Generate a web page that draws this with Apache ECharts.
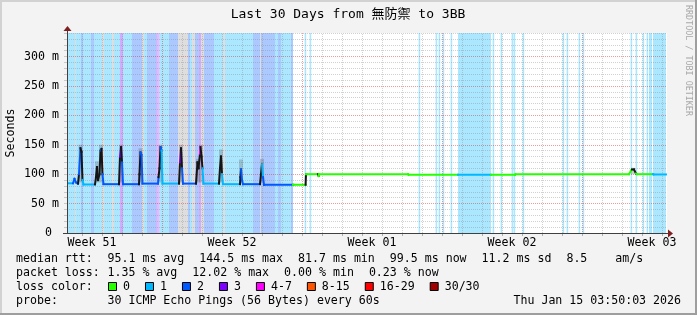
<!DOCTYPE html>
<html><head><meta charset="utf-8">
<script src="https://cdn.jsdelivr.net/npm/echarts@6/dist/echarts.min.js"></script>
<style>html,body{margin:0;padding:0;background:#f3f3f3}#c{width:697px;height:315px}</style>
</head><body><div id="c"></div>
<script>
// ---------- data ----------
const titleText = 'Last 30 Days from 無防禦 to 3BB';
const yAxisName = 'Seconds';
const Y_MAX = 340;
const weekLabelDays = [1.25, 8.25, 15.25, 22.25, 29.25];
const weekLabels = ['Week 51', 'Week 52', 'Week 01', 'Week 02', 'Week 03'];
const dayGridDays = [0.75, 1.75, 2.75, 3.75, 4.75, 5.75, 6.75, 7.75, 8.75, 9.75, 10.75, 11.75, 12.75, 13.75, 14.75,
  15.75, 16.75, 17.75, 18.75, 19.75, 20.75, 21.75, 22.75, 23.75, 24.75, 25.75, 26.75, 27.75, 28.75, 29.75];
const weekGridDays = [4.75, 11.75, 18.75, 25.75];

// loss background periods (days from start), class: 1,2,3,4 = loss colour, 5 = smoke/unknown
const lossStart = [0, 0.4, 0.45, 0.7, 0.8, 1.2, 1.35, 1.75, 1.85, 2.25, 2.35, 2.65, 2.8, 3.25, 3.75, 3.85, 4.0, 4.5, 4.6,
  5.1, 5.55, 6.05, 6.15, 6.25, 6.4, 6.6, 6.7, 6.85, 7.35, 7.8, 7.9, 9.3, 9.65, 9.7, 10.4, 10.55, 10.7, 11.2,
  11.88, 12.13, 17.58, 18.43, 18.58, 18.78, 19.18, 19.55, 21.28, 21.68, 22.23, 22.33, 22.78, 24.78, 24.98, 25.58,
  25.78, 28.18, 28.43, 28.78, 28.98, 29.1, 29.3];
const lossEnd = [0.4, 0.45, 0.7, 0.8, 1.2, 1.35, 1.75, 1.85, 2.25, 2.35, 2.65, 2.8, 3.25, 3.75, 3.85, 4.0, 4.5, 4.6, 5.1,
  5.55, 6.05, 6.15, 6.25, 6.4, 6.6, 6.7, 6.85, 7.35, 7.8, 7.9, 9.3, 9.65, 9.7, 10.4, 10.55, 10.7, 11.2, 11.3,
  11.96, 12.21, 17.66, 18.51, 18.66, 18.86, 19.26, 21.2, 21.36, 21.76, 22.31, 22.41, 22.86, 24.86, 25.06, 25.66,
  25.86, 28.26, 28.51, 28.86, 29.06, 29.25, 29.95];
const lossClass = [1, 5, 1, 2, 1, 2, 1, 5, 1, 5, 1, 3, 1, 2, 5, 1, 2, 4, 1,
  2, 5, 2, 1, 5, 2, 3, 5, 2, 1, 5, 1, 2, 5, 2, 1, 2, 1, 2,
  1, 1, 1, 1, 1, 1, 1, 1, 1, 1, 1, 1, 1, 1, 1, 1,
  1, 1, 1, 1, 1, 1, 1];

// smoke (spread of ping rtt) around the evening peaks
const smokeDays = [0.675, 1.5, 1.7, 2.7, 3.675, 4.675, 5.7, 6.55, 6.7, 7.7, 8.7, 9.75, 28.3];
const smokeLow = [86, 86, 86, 86, 86, 86, 86, 86, 86, 86, 86, 86, 100];
const smokeHigh = [150, 122, 150, 150, 144, 150, 150, 126, 150, 142, 125, 126, 111];

// median rtt (ms) with loss class of the segment ending at each point (9 = smoke dark)
const medianDays = [0, 0.3, 0.375, 0.45, 0.55, 0.6, 0.675, 0.725, 0.775, 0.825, 1.4, 1.45, 1.5, 1.55, 1.625, 1.675, 1.725,
  1.775, 1.825, 2.6, 2.65, 2.7, 2.75, 2.8, 3.6, 3.625, 3.675, 3.725, 3.775, 4.55, 4.575, 4.625, 4.675, 4.725, 4.775,
  5.6, 5.65, 5.7, 5.75, 5.8, 6.45, 6.525, 6.575, 6.65, 6.675, 6.725, 6.775, 6.825, 7.6, 7.65, 7.7, 7.75, 7.8,
  8.65, 8.675, 8.7, 8.75, 8.8, 9.65, 9.7, 9.75, 9.8, 9.85, 11.3, 11.33, 11.93, 11.95, 11.98, 12.55, 12.58, 12.6,
  17.05, 17.08, 19.55, 21.2, 22.4, 22.43, 28.1, 28.2, 28.25, 28.35, 28.45, 28.5, 29.3, 29.33, 29.95];
const medianMs = [84.5, 84.5, 92, 86, 84, 100, 144, 138, 90, 82.5, 82.5, 95, 112, 90, 100, 140, 143,
  100, 83, 83, 130, 146, 120, 83, 83, 100, 137, 133, 84, 84, 95, 110, 146, 140, 84,
  84, 120, 144, 110, 84, 84, 120, 110, 135, 146, 130, 110, 84, 84, 110, 130, 100, 83,
  83, 95, 108, 90, 83, 83, 100, 117, 95, 82, 82, 82, 82, 100, 100, 100, 97, 100,
  100, 99, 99, 99, 99, 100, 100, 106, 108, 108, 101, 100, 100, 99.5, 99.5];
const medianLoss = [1, 1, 2, 2, 2, 9, 2, 9, 9, 1, 1, 9, 9, 9, 9, 9, 2,
  9, 2, 2, 9, 3, 9, 2, 2, 9, 9, 2, 2, 2, 2, 9, 9, 2, 1,
  1, 9, 3, 9, 2, 2, 9, 9, 9, 4, 9, 9, 1, 1, 9, 9, 9, 1,
  1, 9, 9, 2, 2, 2, 9, 9, 1, 2, 2, 0, 0, 9, 0, 0, 9, 0,
  0, 0, 0, 1, 0, 0, 0, 0, 0, 9, 9, 0, 0, 1, 1];

const legendRttLabel = 'median rtt:';
const legendRttItems = ['95.1 ms avg', '144.5 ms max', '81.7 ms min', '99.5 ms now', '11.2 ms sd', '8.5    am/s'];
const legendLossLabel = 'packet loss:';
const legendLossItems = ['1.35 % avg', '12.02 % max', '0.00 % min', '0.23 % now'];
const legendColorLabel = 'loss color:';
const lossLegendLabels = ['0', '1', '2', '3', '4-7', '8-15', '16-29', '30/30'];
const probeLabel = 'probe:';
const probeText = '30 ICMP Echo Pings (56 Bytes) every 60s';
const dateText = 'Thu Jan 15 03:50:03 2026';
const watermark = 'RRDTOOL / TOBI OETIKER';

// ---------- styles ----------
const LINE_C = {0: '#26ff00', 1: '#00b8ff', 2: '#0059ff', 3: '#7e00ff', 4: '#ff00ff', 9: '#151515'};
const BG_C = {1: '#abe7ff', 2: '#abc8ff', 3: '#d4abff', 4: '#ffabff', 5: '#dedede'};
const LEG_C = ['#26ff00', '#00b8ff', '#0059ff', '#7e00ff', '#ff00ff', '#ff5500', '#ff0000', '#a10000'];
const MONO = '"DejaVu Sans Mono", "Noto Sans CJK TC", monospace';
const FS = 11.6, CW = 6.98;
const GRID_GRAY = 'rgba(140,140,140,0.4)';
const GRID_RED = 'rgba(210,40,40,0.45)';

const chart = echarts.init(document.getElementById('c'), null, {renderer: 'canvas'});

function txt(text, x, y, align, size, fill) {
  return {type: 'text', x: x, y: y, silent: true,
    style: {text: text, x: 0, y: 0, font: (size || FS) + 'px ' + MONO, fill: fill || '#000',
      align: align || 'left', verticalAlign: 'middle', textAlign: align || 'left', textVerticalAlign: 'middle'}};
}

const graphics = [];
// frame shading
graphics.push({type: 'rect', shape: {x: 0, y: 0, width: 697, height: 2}, style: {fill: '#d2d2d2'}, silent: true});
graphics.push({type: 'rect', shape: {x: 0, y: 0, width: 2, height: 315}, style: {fill: '#d2d2d2'}, silent: true});
graphics.push({type: 'rect', shape: {x: 0, y: 313, width: 697, height: 2}, style: {fill: '#9e9e9e'}, silent: true});
graphics.push({type: 'rect', shape: {x: 695, y: 0, width: 2, height: 315}, style: {fill: '#9e9e9e'}, silent: true});
// title
graphics.push(txt(titleText, 348, 14.5, 'center', 13));
// y axis title
const yName = txt(yAxisName, 10.5, 133, 'center');
yName.rotation = Math.PI / 2;
graphics.push(yName);
// watermark
graphics.push({type: 'text', x: 688, y: 5, rotation: -Math.PI / 2, silent: true,
  style: {text: watermark, x: 0, y: 0, font: '8.4px ' + MONO, fill: '#a8a8a8', align: 'left', verticalAlign: 'middle'}});
// axis extensions and arrows
graphics.push({type: 'line', shape: {x1: 63, y1: 233.5, x2: 668, y2: 233.5}, style: {stroke: '#404040', lineWidth: 1}, silent: true, z: 50});
graphics.push({type: 'line', shape: {x1: 67.5, y1: 30, x2: 67.5, y2: 233}, style: {stroke: '#404040', lineWidth: 1}, silent: true, z: 50});
graphics.push({type: 'polygon', shape: {points: [[668, 229.5], [668, 237.5], [673, 233.5]]}, style: {fill: '#7f1f1f'}, silent: true, z: 51});
graphics.push({type: 'polygon', shape: {points: [[63.5, 31], [71.5, 31], [67.5, 26]]}, style: {fill: '#7f1f1f'}, silent: true, z: 51});

// legend rows
const colX = 107.5;
const rowY = [259, 273, 287, 301];
graphics.push(txt(legendRttLabel, 16, rowY[0]));
let rx = colX;
legendRttItems.forEach(t => { graphics.push(txt(t, rx, rowY[0])); rx += t.length * CW + 15; });
graphics.push(txt(legendLossLabel, 16, rowY[1]));
let lx = colX;
legendLossItems.forEach(t => { graphics.push(txt(t, lx, rowY[1])); lx += t.length * CW + 15; });
graphics.push(txt(legendColorLabel, 16, rowY[2]));
let bx = 108;
lossLegendLabels.forEach((t, i) => {
  graphics.push({type: 'rect', shape: {x: bx + 0.5, y: rowY[2] - 4.5, width: 8, height: 8},
    style: {fill: LEG_C[i], stroke: '#000', lineWidth: 1}, silent: true});
  graphics.push(txt(t, bx + 15, rowY[2]));
  bx += 15 + t.length * CW + 15;
});
graphics.push(txt(probeLabel, 16, rowY[3]));
graphics.push(txt(probeText, colX, rowY[3]));
graphics.push(txt(dateText, 681, rowY[3], 'right'));

const option = {
  backgroundColor: '#f3f3f3',
  animation: false,
  grid: {left: 67, top: 33, width: 600, height: 200, show: true, backgroundColor: '#ffffff', borderWidth: 0, z: -2,
    containLabel: false, outerBoundsMode: 'none'},
  xAxis: {
    type: 'value', min: 0, max: 30,
    axisLine: {show: false},
    axisTick: {show: true, customValues: dayGridDays, length: 3, lineStyle: {color: '#b0b0b0'}},
    axisLabel: {customValues: weekLabelDays, margin: 4, fontFamily: MONO, fontSize: FS, color: '#000',
      formatter: v => { const k = weekLabelDays.findIndex(w => Math.abs(w - v) < 1e-6); return k >= 0 ? weekLabels[k] : ''; }},
    splitLine: {show: false}
  },
  yAxis: {
    type: 'value', min: 0, max: Y_MAX, interval: 10,
    axisLine: {show: false},
    axisTick: {show: true, length: 3, lineStyle: {color: '#c8c8c8'}},
    axisLabel: {margin: 8, fontFamily: MONO, fontSize: FS, color: '#000',
      formatter: v => (v % 50 === 0 ? (v === 0 ? '0 ' : v + ' m') : '')},
    splitLine: {show: true, lineStyle: {color: [GRID_RED, GRID_GRAY, GRID_GRAY, GRID_GRAY, GRID_GRAY], type: [1, 1], width: 1}}
  },
  graphic: graphics,
  series: [
    {
      type: 'custom', name: 'loss', z: -1, silent: true, clip: true,
      data: lossStart.map((s, i) => [s, lossEnd[i], lossClass[i]]),
      encode: {x: [0, 1], y: 2},
      renderItem: (params, api) => {
        const a = api.coord([api.value(0), Y_MAX]);
        const b = api.coord([api.value(1), 0]);
        return {type: 'rect', shape: {x: a[0], y: a[1], width: b[0] - a[0], height: b[1] - a[1]},
          style: {fill: BG_C[api.value(2)]}};
      }
    },
    {
      type: 'custom', name: 'vgrid', z: 0, silent: true, clip: false,
      data: dayGridDays.map(d => [d, 0]).concat(weekGridDays.map(d => [d, 1])),
      encode: {x: 0, y: 1},
      renderItem: (params, api) => {
        const v = api.value(0), major = api.value(1) === 1;
        if (!major && weekGridDays.some(w => Math.abs(w - v) < 1e-6)) return null;
        const p0 = api.coord([v, 0]), p1 = api.coord([v, Y_MAX]);
        const x = Math.round(p0[0]) + 0.5;
        return {type: 'line', shape: {x1: x, y1: p0[1] + (major ? 3 : 0), x2: x, y2: p1[1]},
          style: {stroke: major ? GRID_RED : GRID_GRAY, lineWidth: 1, lineDash: [1, 1]}};
      }
    },
    {
      type: 'custom', name: 'smoke', z: 2, silent: true, clip: true,
      data: smokeDays.map((d, i) => [d, smokeLow[i], smokeHigh[i]]),
      encode: {x: 0, y: [1, 2]},
      renderItem: (params, api) => {
        const a = api.coord([api.value(0), api.value(2)]);
        const b = api.coord([api.value(0), api.value(1)]);
        return {type: 'rect', shape: {x: a[0] - 2, y: a[1], width: 4, height: b[1] - a[1]},
          style: {fill: 'rgba(90,90,90,0.28)'}};
      }
    },
    {
      type: 'custom', name: 'median', z: 3, silent: true, clip: true,
      data: medianDays.map((d, i) => [d, medianMs[i], i]),
      encode: {x: 0, y: 1},
      renderItem: (params, api) => {
        const i = api.value(2);
        if (i === 0) return null;
        const p0 = api.coord([medianDays[i - 1], medianMs[i - 1]]);
        const p1 = api.coord([medianDays[i], medianMs[i]]);
        return {type: 'line', shape: {x1: p0[0], y1: p0[1], x2: p1[0], y2: p1[1]},
          style: {stroke: LINE_C[medianLoss[i]], lineWidth: 2, lineCap: 'square'}};
      }
    }
  ]
};
chart.setOption(option);
</script>
</body></html>
